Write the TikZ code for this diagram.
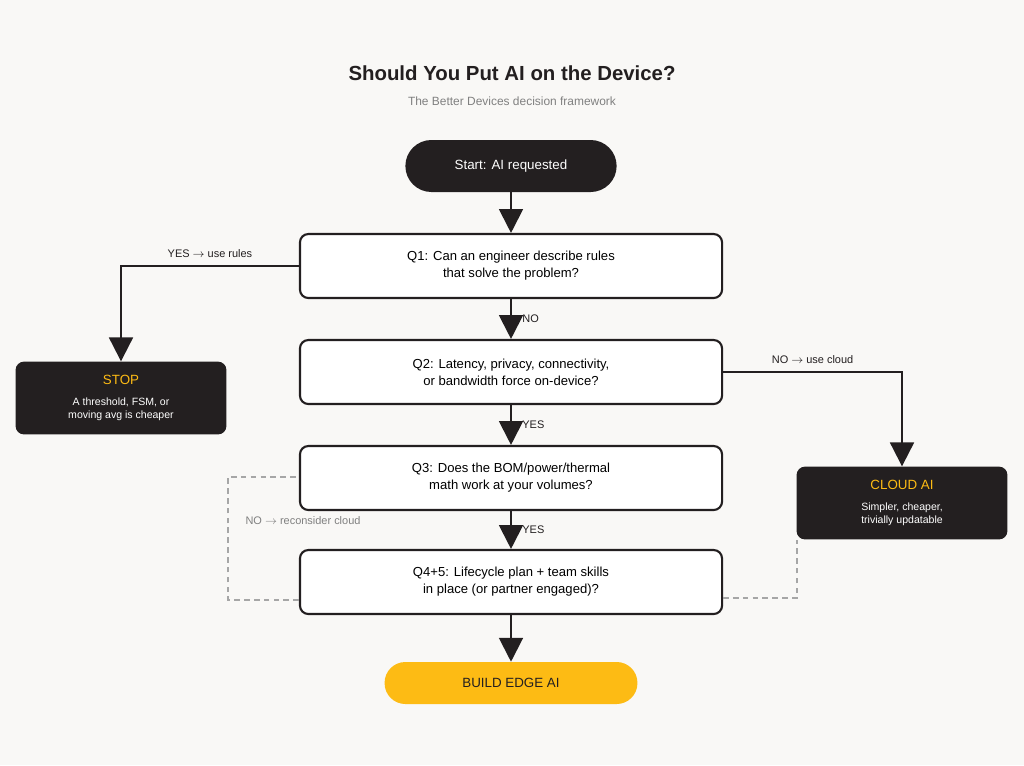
\documentclass[tikz,border=0pt]{standalone}
\usepackage{fontspec}
\setmainfont{Liberation Sans}
\usetikzlibrary{arrows.meta,positioning}
\definecolor{ink}{HTML}{231F20}
\definecolor{gold}{HTML}{FDBB14}
\definecolor{paper}{HTML}{F9F8F6}
\tikzset{
  qbox/.style={draw=ink, line width=1.5pt, rounded corners=6pt, fill=white, minimum width=10.55cm, minimum height=1.6cm, align=center, font=\fontsize{9.3}{12}\selectfont},
  endbox/.style={fill=ink, rounded corners=6pt, minimum width=5.27cm, minimum height=1.82cm, align=center, text=white, font=\fontsize{7.5}{9.5}\selectfont},
  pill/.style={rounded corners=0.65cm, minimum height=1.3cm, align=center, font=\fontsize{9.5}{12}\selectfont},
  flow/.style={draw=ink, line width=1.5pt, -{Triangle[width=17pt,length=17pt]}},
  back/.style={draw=gray!70, line width=1.2pt, dash pattern=on 4pt off 3pt},
  lbl/.style={font=\fontsize{7.8}{10}\selectfont, text=ink}
}
\begin{document}
\begin{tikzpicture}[x=0.025cm,y=-0.025cm]
    \fill[paper] (0,0) rectangle (1024,765);
    \useasboundingbox (0,0) rectangle (1024,765);

    \node[font=\fontsize{14.5}{17}\selectfont\bfseries, text=ink] (title) at (512,73) {Should You Put AI on the Device?};
    \node[font=\fontsize{8.5}{10}\selectfont, text=gray] (sub) at (512,101) {The Better Devices decision framework};

    \node[pill, fill=ink, text=white, minimum width=5.28cm] (start) at (511,166) {Start: AI requested};
    \node[qbox] (q1) at (511,266) {Q1: Can an engineer describe rules\\that solve the problem?};
    \node[qbox] (q2) at (511,372) {Q2: Latency, privacy, connectivity,\\or bandwidth force on-device?};
    \node[qbox] (q3) at (511,478) {Q3: Does the BOM/power/thermal\\math work at your volumes?};
    \node[qbox] (q4) at (511,582) {Q4+5: Lifecycle plan + team skills\\in place (or partner engaged)?};
    \node[pill, fill=gold, text=ink, minimum width=6.32cm, minimum height=1.05cm, rounded corners=0.52cm] (build) at (511,683) {BUILD EDGE AI};
    \node[endbox] (stop) at (121,398) {{\fontsize{9.5}{12}\selectfont\color{gold}STOP}\\[5pt]A threshold, FSM, or\\moving avg is cheaper};
    \node[endbox] (cloud) at (902,503) {{\fontsize{9.5}{12}\selectfont\color{gold}CLOUD AI}\\[5pt]Simpler, cheaper,\\trivially updatable};

    \path[flow] (start) -- (q1);
    \path[flow] (q1) -- node[lbl, right=4pt] {NO} (q2);
    \path[flow] (q2) -- node[lbl, right=4pt] {YES} (q3);
    \path[flow] (q3) -- node[lbl, right=4pt] {YES} (q4);
    \path[flow] (q4) -- (build);
    \path[flow] (q1.west) -| node[lbl, pos=0.25, above=2pt] {YES $\rightarrow$ use rules} (stop.north);
    \path[flow] (q2.east) -| node[lbl, pos=0.25, above=2pt] {NO $\rightarrow$ use cloud} (cloud.north);

    \coordinate (bl) at (228,600);
    \coordinate (tl) at (228,477);
    \coordinate (br) at (797,598);
    \path[back] (q4.west |- bl) -- (bl) -- (tl) -- (q3.west |- tl);
    \node[lbl, text=gray] (recon) at (303,521) {NO $\rightarrow$ reconsider cloud};
    \path[back] (q4.east |- br) -- (br) -- (br |- cloud.south);
    \path[draw=none, -{Triangle[width=17pt,length=17pt]}, ink] (797,560) -- (br |- cloud.south);
\end{tikzpicture}
\end{document}
